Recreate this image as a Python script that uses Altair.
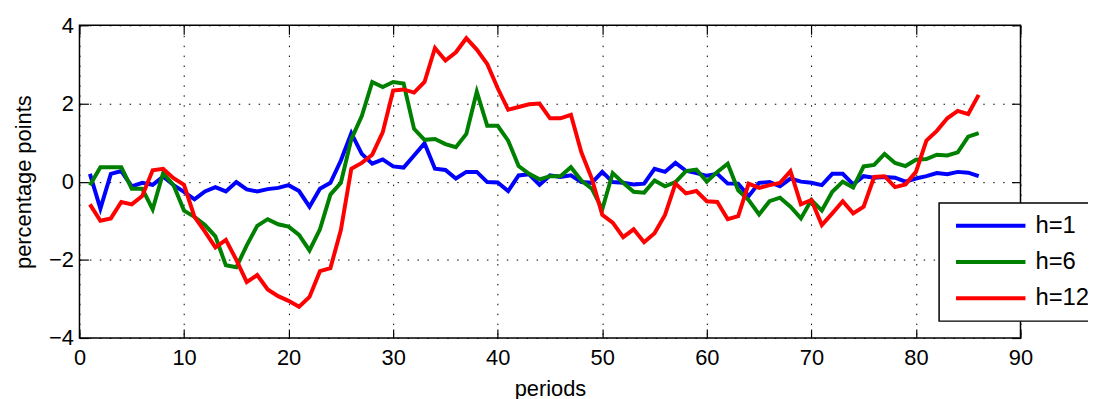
import altair as alt
import pandas as pd

periods = list(range(1, 87))

h1 = [0.2, -0.69, 0.2, 0.27, -0.12, -0.03, -0.08, 0.13, -0.09, -0.26,
      -0.45, -0.25, -0.14, -0.25, -0.01, -0.2, -0.25, -0.19, -0.16, -0.09,
      -0.24, -0.64, -0.18, -0.03, 0.54, 1.24, 0.71, 0.46, 0.57, 0.39,
      0.36, 0.67, 0.98, 0.33, 0.30, 0.08, 0.25, 0.25, -0.01, -0.02,
      -0.24, 0.16, 0.19, -0.08, 0.16, 0.12, 0.16, -0.01, -0.03, 0.25,
      -0.01, -0.03, -0.07, -0.05, 0.33, 0.25, 0.48, 0.28, 0.22, 0.15,
      0.2, -0.05, -0.05, -0.37, -0.03, -0.01, -0.12, 0.08, 0.0, -0.03,
      -0.09, 0.2, 0.2, -0.07, 0.14, 0.1, 0.12, 0.1, 0.0, 0.08,
      0.14, 0.22, 0.19, 0.25, 0.23, 0.14]

h6 = [-0.09, 0.37, 0.37, 0.37, -0.18, -0.18, -0.71, 0.22, -0.09, -0.74,
      -0.9, -1.11, -1.4, -2.14, -2.19, -1.63, -1.13, -0.96, -1.09, -1.15,
      -1.36, -1.76, -1.22, -0.33, -0.03, 1.09, 1.68, 2.55, 2.42, 2.55,
      2.51, 1.35, 1.07, 1.09, 0.96, 0.88, 1.22, 2.3, 1.43, 1.43,
      1.05, 0.4, 0.2, 0.06, 0.14, 0.14, 0.37, 0.03, -0.18, -0.71,
      0.22, -0.03, -0.26, -0.28, 0.03, -0.12, -0.01, 0.27, 0.31, 0.0,
      0.25, 0.46, -0.22, -0.47, -0.84, -0.5, -0.41, -0.64, -0.94, -0.47,
      -0.74, -0.26, 0.0, -0.15, 0.39, 0.43, 0.71, 0.48, 0.4, 0.56,
      0.58, 0.69, 0.67, 0.75, 1.15, 1.24]

h12 = [-0.58, -1.0, -0.94, -0.52, -0.58, -0.37, 0.29, 0.33, 0.09, -0.08,
       -0.9, -1.28, -1.68, -1.49, -2.0, -2.57, -2.39, -2.76, -2.93, -3.05,
       -3.2, -2.95, -2.29, -2.21, -1.24, 0.33, 0.48, 0.69, 1.26, 2.33,
       2.36, 2.28, 2.55, 3.42, 3.1, 3.31, 3.67, 3.38, 3.01, 2.39,
       1.84, 1.91, 1.98, 2.0, 1.62, 1.62, 1.71, 0.75, 0.08, -0.85,
       -1.05, -1.42, -1.22, -1.55, -1.32, -0.85, -0.05, -0.3, -0.24, -0.5,
       -0.52, -0.96, -0.88, -0.05, -0.16, -0.09, -0.03, 0.27, -0.58, -0.47,
       -1.11, -0.81, -0.5, -0.81, -0.64, 0.12, 0.14, -0.14, -0.07, 0.25,
       1.05, 1.3, 1.62, 1.81, 1.73, 2.22]

series_names = ["h=1", "h=6", "h=12"]
series_colors = ["#0000ff", "#008000", "#ff0000"]
x_ticks = [0, 10, 20, 30, 40, 50, 60, 70, 80, 90]
y_ticks = [-4, -2, 0, 2, 4]

rows = []
for name, vals in zip(series_names, [h1, h6, h12]):
    for p, v in zip(periods, vals):
        rows.append({"period": p, "value": v, "series": name})
df = pd.DataFrame(rows)

FONT = "Liberation Sans"
GRID_DASH = [1.5, 8.5]
TICK = 9

x_scale = alt.Scale(domain=[0, 90], nice=False, zero=False)
y_scale = alt.Scale(domain=[-4, 4], nice=False, zero=False)

lines = alt.Chart(df).mark_line(strokeWidth=4).encode(
    x=alt.X("period:Q", scale=x_scale, axis=alt.Axis(
        orient="bottom", values=x_ticks, format="d", domain=False,
        grid=True, gridColor="black", gridDash=GRID_DASH, gridWidth=1,
        ticks=True, tickSize=TICK, tickColor="black", tickWidth=1.2, offset=-TICK,
        labelPadding=10, labelFlush=False, labelOverlap=False,
        title="periods", titlePadding=10)),
    y=alt.Y("value:Q", scale=y_scale, axis=alt.Axis(
        orient="left", values=y_ticks, format="d", domain=False,
        grid=True, gridColor="black", gridDash=GRID_DASH, gridWidth=1,
        ticks=True, tickSize=TICK, tickColor="black", tickWidth=1.2, offset=-TICK,
        labelPadding=6, labelFlush=False, labelOverlap=False,
        title="percentage points", titlePadding=13)),
    color=alt.Color("series:N", sort=series_names,
                    scale=alt.Scale(domain=series_names, range=series_colors),
                    legend=alt.Legend(
                        orient="none", legendX=866, legendY=179, title=None,
                        symbolType="stroke", symbolSize=4900, symbolStrokeWidth=4,
                        symbolOffset=4, labelOffset=8, labelFontSize=24,
                        labelFont=FONT, labelColor="black", clipHeight=24,
                        padding=11, rowPadding=12.5,
                        strokeColor="black", fillColor="white")),
)

ticks_layer = alt.Chart(df).mark_line(opacity=0).encode(
    x=alt.X("period:Q", scale=x_scale, axis=alt.Axis(
        orient="top", values=x_ticks, labels=False, domain=False, grid=False,
        ticks=True, tickSize=TICK, tickColor="black", tickWidth=1.2,
        offset=-TICK, title=None)),
    y=alt.Y("value:Q", scale=y_scale, axis=alt.Axis(
        orient="right", values=y_ticks, labels=False, domain=False, grid=False,
        ticks=True, tickSize=TICK, tickColor="black", tickWidth=1.2,
        offset=-TICK, title=None)),
    detail="series:N",
)

chart = alt.layer(lines, ticks_layer).properties(
    width=948, height=315,
    padding={"left": 72, "top": 16, "right": 68, "bottom": 60},
    autosize=alt.AutoSizeParams(type="none"),
    background="white",
).configure_view(
    stroke="black", strokeWidth=1.5
).configure_axis(
    labelFont=FONT, titleFont=FONT, labelFontSize=22, titleFontSize=22,
    labelColor="black", titleColor="black", titleFontWeight="normal",
).configure_legend(
    strokeWidth=1.5
)

chart.save("out.html", embed_options={"renderer": "svg", "actions": False})
